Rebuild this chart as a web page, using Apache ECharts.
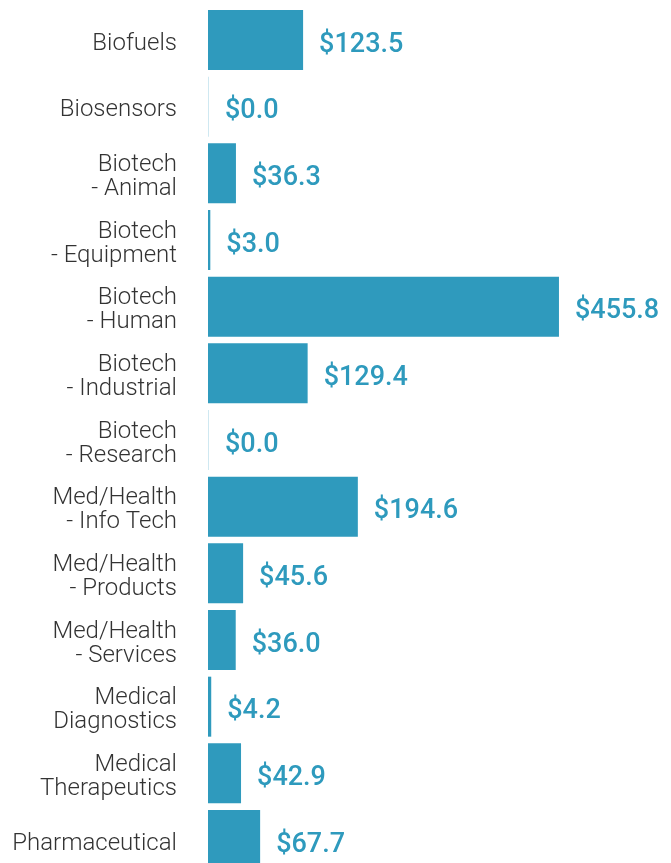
<!DOCTYPE html>
<html>
<head>
<meta charset="utf-8">
<script src="https://cdn.jsdelivr.net/npm/echarts@6/dist/echarts.min.js"></script>
<style>
html,body{margin:0;padding:0;background:#fff;overflow:hidden;}
#chart{width:671px;height:863px;}
</style>
</head>
<body>
<div id="chart"></div>
<script>
const categories = [
  "Biofuels",
  "Biosensors",
  "Biotech\n- Animal",
  "Biotech\n- Equipment",
  "Biotech\n- Human",
  "Biotech\n- Industrial",
  "Biotech\n- Research",
  "Med/Health\n- Info Tech",
  "Med/Health\n- Products",
  "Med/Health\n- Services",
  "Medical\nDiagnostics",
  "Medical\nTherapeutics",
  "Pharmaceutical"
];
const values = [123.5, 0.0, 36.3, 3.0, 455.8, 129.4, 0.0, 194.6, 45.6, 36.0, 4.2, 42.9, 67.7];

const barColor = '#2f9abd';
const zeroColor = '#cfe8f1';

const chart = echarts.init(document.getElementById('chart'), null, {renderer: 'canvas'});
chart.setOption({
  animation: false,
  backgroundColor: '#ffffff',
  grid: {left: 208, width: 462, top: 6.67, height: 866.67, containLabel: false, outerBoundsMode: 'none'},
  xAxis: {
    type: 'value', min: 0, max: 600, show: false
  },
  yAxis: {
    type: 'category',
    data: categories,
    inverse: true,
    axisLine: {show: false},
    axisTick: {show: false},
    splitLine: {show: false},
    axisLabel: {
      margin: 31,
      align: 'right',
      formatter: v => '{s| }\n' + v.split('\n').map(t => '{a|' + t + '}').join('\n'),
      rich: {
        s: {fontSize: 1, lineHeight: 7},
        a: {
          fontFamily: 'Roboto',
          fontWeight: 300,
          fontSize: 24,
          lineHeight: 24,
          color: '#333333',
          align: 'right'
        }
      }
    }
  },
  series: [{
    type: 'bar',
    data: values.map(v => ({value: v, itemStyle: {color: v === 0 ? zeroColor : barColor}})),
    barCategoryGap: '10%',
    barMinHeight: 1,
    label: {
      show: true,
      position: 'right',
      distance: 16,
      offset: [0, 5],
      fontFamily: 'Roboto',
      fontWeight: 500,
      fontSize: 27,
      color: '#2e9abd',
      formatter: p => '$' + p.value.toFixed(1)
    }
  }]
});
</script>
</body>
</html>
